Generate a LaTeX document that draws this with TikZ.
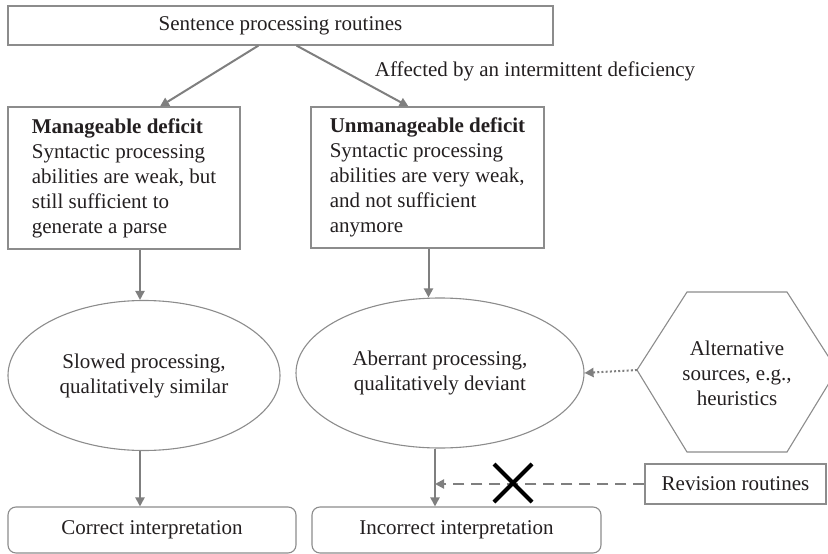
\documentclass[tikz,border=0pt]{standalone}
\usepackage{fontspec}
\setmainfont{Liberation Serif}
\usetikzlibrary{shapes.geometric,shapes.misc,arrows.meta,calc}

\definecolor{boxgray}{HTML}{8C8C8C}
\definecolor{arrowgray}{HTML}{7F7F7F}
\definecolor{inkgray}{HTML}{231F20}

\tikzset{
  box/.style={draw=boxgray,line width=1.1pt,inner sep=0pt},
  oval/.style={ellipse,draw=boxgray,line width=1.1pt,inner sep=0pt,align=center},
  arr/.style={draw=arrowgray,line width=2pt,-{Triangle[length=9pt,width=9pt]}},
}

\begin{document}
\begin{tikzpicture}[x=1pt,y=-1pt,every node/.style={text=inkgray,font=\fontsize{21}{25}\selectfont}]
    \providecommand{\diagfontsize}{\fontsize{21}{25}\selectfont}
    \pgfmathsetmacro{\ovalheight}{150}
    \clip (0,0) rectangle (828,554);
    % top row
    \node[box,minimum width=545,minimum height=39] (routines) at (280.5,25.5) {Sentence processing routines};
    \node (affected) at (535,71) {Affected by an intermittent deficiency};
    % deficit boxes
    \node[box,minimum width=232,minimum height=142,align=left] (manage) at (124,178)
    {\textbf{Manageable deficit}\\Syntactic processing\\abilities are weak, but\\still sufficient to\\generate a parse};
    \node[box,minimum width=233,minimum height=141,align=left] (unmanage) at (427.5,177.5)
    {\textbf{Unmanageable deficit}\\Syntactic processing\\abilities are very weak,\\and not sufficient\\anymore};
    % processing
    \node[oval,minimum width=272,minimum height=\ovalheight] (slowed) at (144,375.5) {Slowed processing,\\qualitatively similar};
    \node[oval,minimum width=288,minimum height=\ovalheight] (aberrant) at (440,373) {Aberrant processing,\\qualitatively deviant};
    % alternative sources
    \draw[boxgray,line width=1.1pt] (637,370) coordinate (altwest) -- (687,292) -- (787,292) -- (837,370) -- (787,452) -- (687,452) -- cycle;
    \node[align=center] (altsrc) at (737,373) {Alternative\\sources, e.g.,\\heuristics};
    \node[box,minimum width=181,minimum height=40] (revision) at (735.5,484) {Revision routines};
    % interpretations
    \node[box,rounded corners=8pt,minimum width=288,minimum height=46] (correct) at (152,530) {Correct interpretation};
    \node[box,rounded corners=8pt,minimum width=289,minimum height=46] (incorrect) at (456.5,530) {Incorrect interpretation};
    % connectors
    \draw[arr] ($(routines.south)+(-22,0)$) -- ($(manage.north)+(36,0)$);
    \draw[arr] ($(routines.south)+(16,0)$) -- ($(unmanage.north)+(-19,0)$);
    \draw[arr] ([xshift=16pt]manage.south) -- ([xshift=16pt]manage.south |- slowed.north);
    \draw[arr] ([xshift=1pt]unmanage.south) -- ([xshift=1pt]unmanage.south |- aberrant.north);
    \draw[arr] ([xshift=-4pt]slowed.south) -- ([xshift=-4pt]slowed.south |- correct.north);
    \coordinate (aberrout) at ([xshift=-5pt]aberrant.south);
    \draw[arr] (aberrout) -- (aberrout |- incorrect.north);
    \draw[arr,dash pattern=on 2pt off 2.2pt] (altwest) -- (aberrant.east);
    \draw[arr,dash pattern=on 11pt off 7pt] (revision.west) -- (revision.west -| aberrout);
    \node[cross out,draw=black,line width=4pt,minimum size=34pt,inner sep=0pt] (blocked) at (513,483) {};
\end{tikzpicture}
\end{document}
